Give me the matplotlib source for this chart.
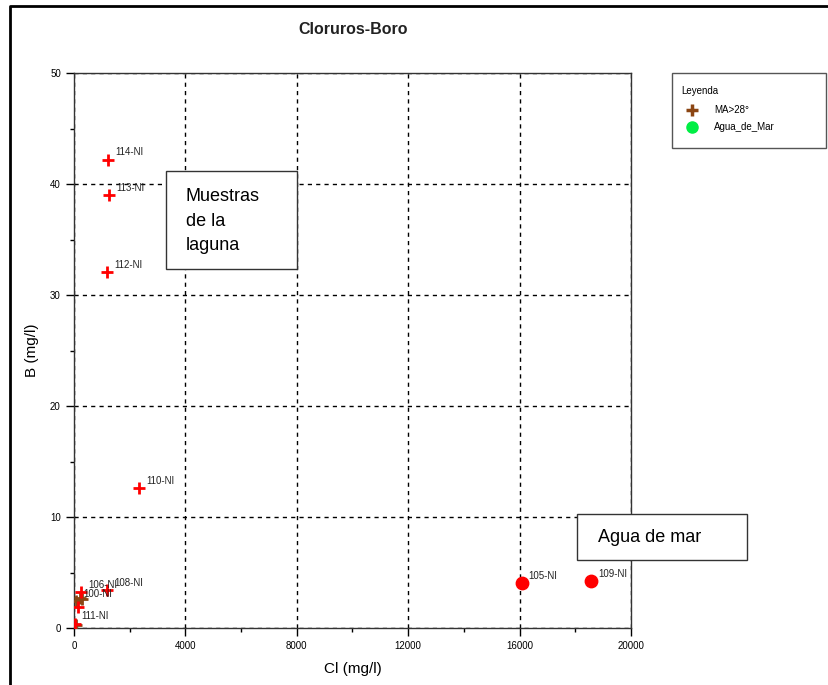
import matplotlib.pyplot as plt
from matplotlib.lines import Line2D
from matplotlib.patches import Rectangle

# muestras de la laguna (cruces rojas)
cl_laguna = [1220, 1260, 1200, 2330, 1190, 250, 150, 30]
b_laguna = [42.2, 39.0, 32.1, 12.6, 3.4, 3.2, 1.9, 0.4]
lab_laguna = ["114-NI", "113-NI", "112-NI", "110-NI", "108-NI", "106-NI", "", "111-NI"]

# resto de muestras MA>28° (cruces marrones)
cl_ma = [80, 200, 300, 60]
b_ma = [2.4, 2.7, 2.6, 0.3]
lab_ma = ["100-NI", "", "", ""]

# agua de mar
cl_mar = [16080, 18560]
b_mar = [4.05, 4.2]
lab_mar = ["105-NI", "109-NI"]

narrow = ["Liberation Sans Narrow", "Liberation Sans", "DejaVu Sans"]
arial = ["Liberation Sans", "DejaVu Sans"]

W, H = 829, 685


def fx(px):
    return px / W


def fy(py):
    return 1 - py / H


fig = plt.figure(figsize=(8.29, 6.85), dpi=100)
ax = fig.add_axes([fx(74), 57 / H, 557 / W, 555 / H])

ax.scatter(cl_ma, b_ma, marker="+", s=70, color="#8B4513", linewidths=2, zorder=3)
ax.scatter(cl_laguna, b_laguna, marker="+", s=70, color="#ff0000", linewidths=2, zorder=4)
ax.scatter(cl_mar, b_mar, marker="o", s=80, color="#ff0000", zorder=4)

for xs, ys, labs in [(cl_laguna, b_laguna, lab_laguna), (cl_ma, b_ma, lab_ma), (cl_mar, b_mar, lab_mar)]:
    for x, y, t in zip(xs, ys, labs):
        if t:
            ax.annotate(t, (x, y), xytext=(5, 3), textcoords="offset points",
                        fontsize=7, family=narrow, color="#222222", zorder=5)

ax.set_xlim(0, 20000)
ax.set_ylim(0, 50)
ax.set_xticks([0, 4000, 8000, 12000, 16000, 20000])
ax.set_xticks([2000, 6000, 10000, 14000, 18000], minor=True)
ax.set_yticks([0, 10, 20, 30, 40, 50])
ax.set_yticks([5, 15, 25, 35, 45], minor=True)
ax.tick_params(which="major", direction="out", length=6, labelsize=7, width=1)
ax.tick_params(which="minor", direction="out", length=3, width=1)
for lab in ax.get_xticklabels() + ax.get_yticklabels():
    lab.set_family(narrow)
ax.grid(True, which="major", color="black", linestyle=(0, (3, 3)), linewidth=1)
for s in ax.spines.values():
    s.set_linewidth(1)
    s.set_color("#333333")

ax.set_xlabel("Cl (mg/l)", fontsize=11, family=arial, labelpad=8)
ax.set_ylabel("B (mg/l)", fontsize=11, family=arial, labelpad=8)
fig.text(fx(353), fy(29), "Cloruros-Boro", ha="center", va="center",
         fontsize=11.5, family=narrow, fontweight="bold", color="#222222")

# cuadros de texto
fig.patches.append(Rectangle((fx(166), fy(269)), 131 / W, 98 / H, transform=fig.transFigure,
                             fc="white", ec="#333333", lw=1, zorder=10))
fig.text(fx(186), fy(221), "Muestras\nde la\nlaguna", ha="left", va="center",
         fontsize=13, family=arial, linespacing=1.55, zorder=11)
fig.patches.append(Rectangle((fx(577), fy(560)), 170 / W, 46 / H, transform=fig.transFigure,
                             fc="white", ec="#333333", lw=1, zorder=10))
fig.text(fx(598), fy(537), "Agua de mar", ha="left", va="center",
         fontsize=13, family=arial, zorder=11)

# leyenda
fig.patches.append(Rectangle((fx(672), fy(148)), 154 / W, 75 / H,
                             transform=fig.transFigure, fill=False, ec="#555555", lw=1))
fig.text(fx(681), fy(91), "Leyenda", fontsize=7, family=narrow, va="center")
fig.lines.append(Line2D([fx(692)], [fy(110)], marker="+", ms=8, mew=2.5,
                        color="#8B4513", transform=fig.transFigure))
fig.text(fx(714), fy(110), "MA>28°", fontsize=7, family=narrow, va="center")
fig.lines.append(Line2D([fx(692)], [fy(127)], marker="o", ms=8,
                        color="#00ee44", transform=fig.transFigure))
fig.text(fx(714), fy(127), "Agua_de_Mar", fontsize=7, family=narrow, va="center")

# marco exterior
fig.lines.append(Line2D([fx(10), fx(10), 1], [0, fy(6), fy(6)],
                        color="black", lw=2, transform=fig.transFigure))

fig.savefig("out.png", dpi=100)
